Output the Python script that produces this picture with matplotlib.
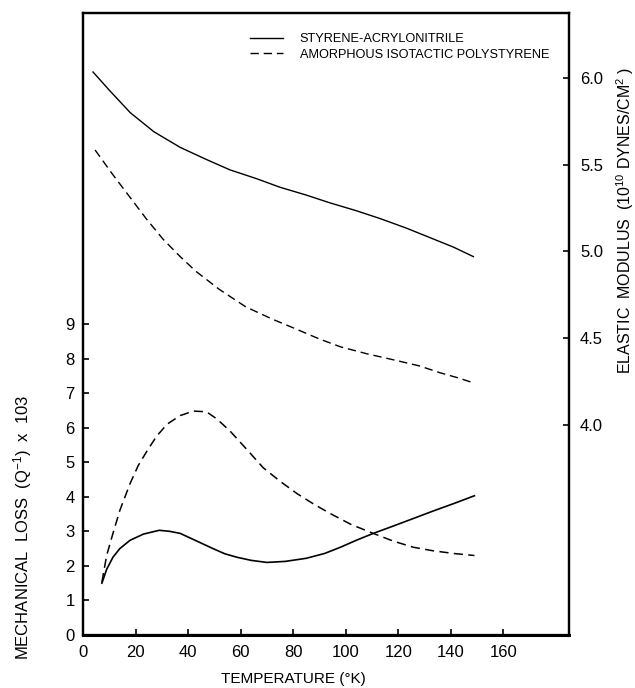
import numpy as np
import matplotlib.pyplot as plt

plt.rcParams['font.family'] = ['Liberation Sans', 'DejaVu Sans']
plt.rcParams['mathtext.default'] = 'regular'

# elastic modulus (10^10 dynes/cm^2), right axis
t_mod_sa = [3.8, 10, 18, 27, 37, 47, 56, 66, 75, 85, 94, 104, 113, 123, 132, 141, 148.6]
mod_sa = [6.035, 5.93, 5.80, 5.69, 5.60, 5.53, 5.47, 5.42, 5.37, 5.325, 5.28, 5.235,
          5.19, 5.135, 5.08, 5.025, 4.97]

t_mod_ps = [4.6, 11, 18, 24, 30.5, 37, 43, 52, 62, 72, 81.5, 90, 98, 108, 119.6,
            128, 136, 143, 149]
mod_ps = [5.585, 5.45, 5.31, 5.19, 5.07, 4.97, 4.885, 4.78, 4.68, 4.61, 4.55, 4.495,
          4.45, 4.41, 4.37, 4.34, 4.30, 4.27, 4.24]

# mechanical loss (x 10^3), left axis
t_loss_sa = [7.2, 9, 11.4, 14, 17.9, 23, 29, 33, 37, 43, 49.5, 54, 58.6, 64, 70, 77,
             85, 92, 98, 104, 110.5, 118, 125.7, 133, 141, 149]
loss_sa = [1.5, 1.9, 2.25, 2.5, 2.74, 2.92, 3.03, 3.0, 2.94, 2.73, 2.5, 2.35, 2.25,
           2.16, 2.1, 2.13, 2.22, 2.36, 2.54, 2.74, 2.94, 3.15, 3.37, 3.58, 3.8, 4.03]

t_loss_ps = [7.2, 9, 11.4, 14, 17.9, 21, 24.4, 28, 32, 37, 42, 47, 51, 56, 62, 68.6,
             75, 81.5, 88, 94, 102, 110.5, 118, 125.7, 133, 141, 149]
loss_ps = [1.53, 2.3, 2.94, 3.6, 4.38, 4.9, 5.33, 5.75, 6.1, 6.35, 6.48, 6.46, 6.25,
           5.9, 5.4, 4.84, 4.45, 4.09, 3.78, 3.52, 3.2, 2.94, 2.72, 2.54, 2.44, 2.36, 2.3]

x_ticks = np.arange(0, 161, 20)
loss_ticks = np.arange(0, 10)
mod_ticks = [4.0, 4.5, 5.0, 5.5, 6.0]

labels = ['STYRENE-ACRYLONITRILE', 'AMORPHOUS ISOTACTIC POLYSTYRENE']

dash = (0, (6, 3.5))

fig = plt.figure(figsize=(6.35, 6.88), dpi=100)
ax = fig.add_axes([83/635, 1 - 635/688, 486/635, 622/688])
ax2 = ax.twinx()

ax.plot(t_loss_sa, loss_sa, color='black', lw=1.2)
ax.plot(t_loss_ps, loss_ps, color='black', lw=1.1, linestyle=dash)
h1, = ax2.plot(t_mod_sa, mod_sa, color='black', lw=1.0)
h2, = ax2.plot(t_mod_ps, mod_ps, color='black', lw=1.0, linestyle=dash)

ax.set_xlim(0, 185)
ax.set_ylim(0, 18)
ax2.set_ylim(2.788, 6.375)

ax.set_xticks(x_ticks)
ax.set_xticklabels([str(v) for v in x_ticks])
ax.set_yticks(loss_ticks)
ax2.set_yticks(mod_ticks)
ax2.set_yticklabels([f'{v:.1f}' for v in mod_ticks])

for a in (ax, ax2):
    for s in a.spines.values():
        s.set_linewidth(1.6)
ax.spines['bottom'].set_linewidth(2.2)

ax.tick_params(axis='x', direction='in', length=4, width=1.2, pad=7, labelsize=12)
ax.tick_params(axis='y', direction='in', length=4, width=1.2, pad=6, labelsize=12)
ax2.tick_params(axis='y', direction='in', length=4, width=1.2, pad=8, labelsize=12)

ax.set_xlabel('TEMPERATURE (°K)', fontsize=11)
ax.xaxis.set_label_coords(0.432, -0.060)
ax.set_ylabel('MECHANICAL  LOSS  (Q$^{-1}$)  x  103', fontsize=12)
ax.yaxis.set_label_coords(-0.101, 0.174)
ax2.set_ylabel('ELASTIC  MODULUS  (10$^{10}$ DYNES/CM$^{2}$ )', fontsize=11.5)
ax2.yaxis.set_label_coords(1.093, 0.666)

fig.legend([h1, h2], labels, loc='upper left',
           bbox_to_anchor=(250/635, 1 - 33/688), bbox_transform=fig.transFigure,
           frameon=False, fontsize=9.2, handlelength=2.6, handletextpad=1.3,
           labelspacing=0.3, borderpad=0, borderaxespad=0)

fig.savefig('out.png', dpi=100)
